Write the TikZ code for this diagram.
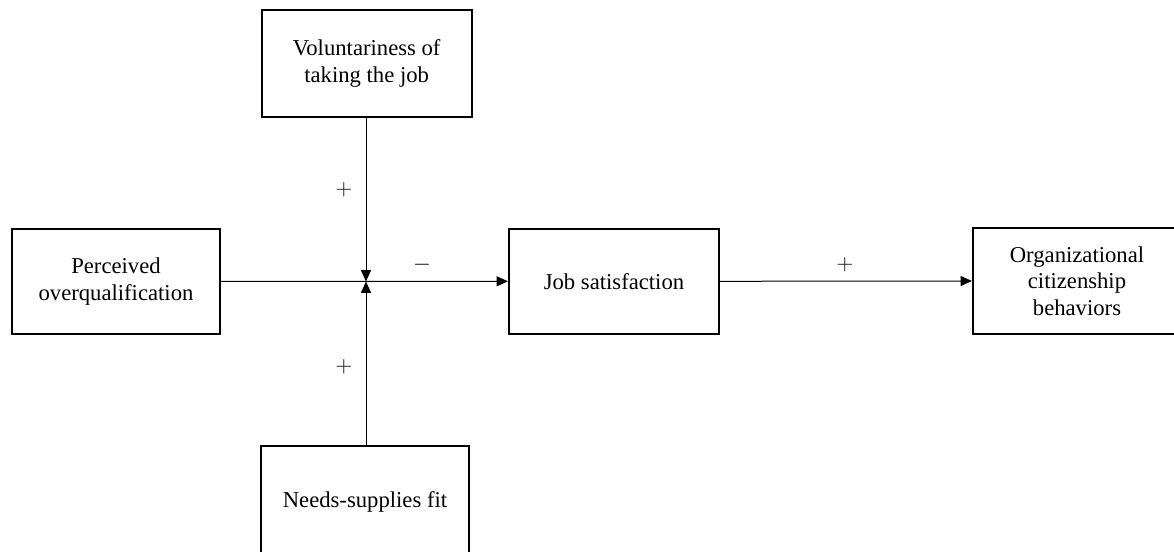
\documentclass[tikz,border=0pt]{standalone}
\usepackage{fontspec}
\setmainfont{Liberation Serif}
\usetikzlibrary{arrows.meta}

\begin{document}
\begin{tikzpicture}
            [x=0.75pt,y=-0.75pt,thick,
             box/.style={draw,line width=1.6pt,align=center,inner sep=0pt,
               font=\fontsize{17}{20}\selectfont},
             link/.style={line width=0.75pt,-{Triangle[length=8.5pt,width=7.5pt]}},
             sign/.style={font=\fontsize{19}{20}\selectfont}]
            \useasboundingbox (0,0) rectangle (1174,552);
            \node[box,minimum width=157.5pt,minimum height=80pt] (vol) at (366.7,63.3) {Voluntariness of\\taking the job};
            \node[box,minimum width=156pt,minimum height=79pt] (perc) at (116,281.5) {Perceived\\overqualification};
            \node[box,minimum width=157.5pt,minimum height=79pt] (job) at (614,281.3) {Job satisfaction};
            \node[box,minimum width=156pt,minimum height=79pt] (ocb) at (1077,281) {Organizational\\citizenship\\behaviors};
            \node[box,minimum width=156pt,minimum height=84pt] (fit) at (365,502) {Needs-supplies fit};
            \coordinate (mod) at (366,281.5);
            \draw[link] (perc.east) -- (job.west);
            \draw[link] (vol.south -| mod) -- (mod);
            \draw[link] (fit.north -| mod) -- (mod);
            \draw[link] (job.east) -- (ocb.west);
            \node[sign] (s1) at (344,190) {$+$};
            \node[sign] (s2) at (422,265) {$-$};
            \node[sign] (s3) at (344,367) {$+$};
            \node[sign] (s4) at (845,265) {$+$};
        \end{tikzpicture}
\end{document}
